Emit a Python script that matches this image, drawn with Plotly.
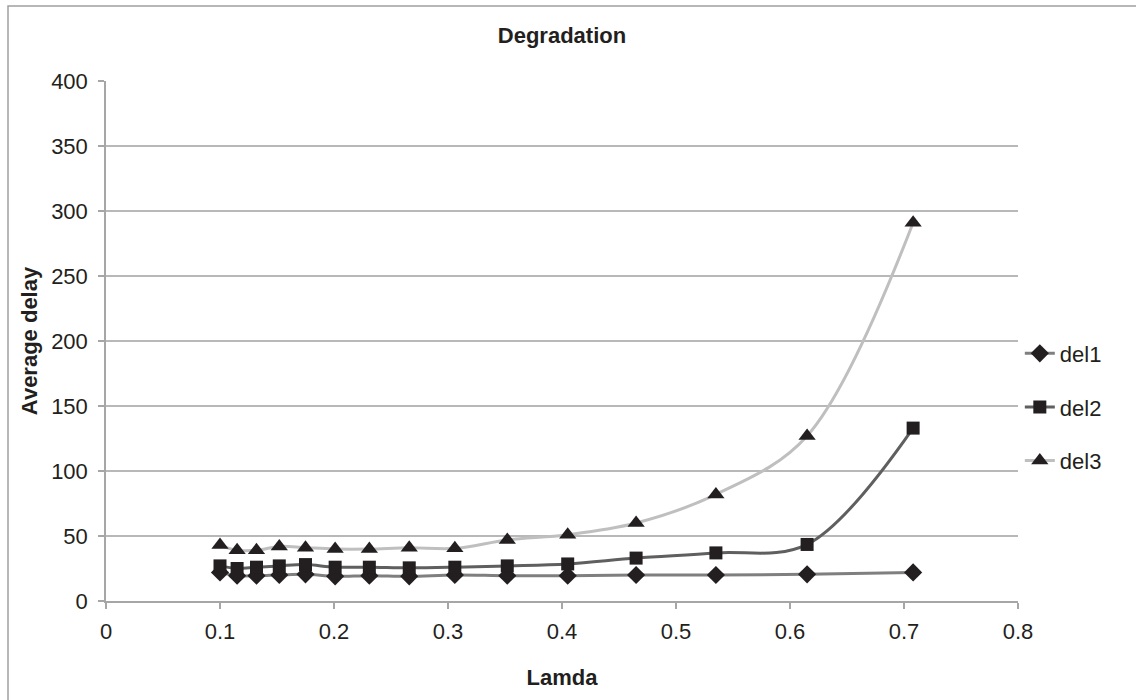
import plotly.graph_objects as go

lamda = [0.1, 0.115, 0.132, 0.152, 0.175, 0.201, 0.231, 0.266, 0.306, 0.352, 0.405, 0.465, 0.535, 0.615, 0.708]
del1 = [22, 19.5, 19.5, 20, 20.5, 19, 19.5, 19, 20, 19.5, 19.5, 20, 20, 20.5, 22]
del2 = [27, 25, 26, 27, 28, 26, 26, 25.5, 26, 27, 28.5, 33, 37, 43.5, 133]
del3 = [43, 39, 39, 42, 41, 40, 40, 41, 40.5, 47, 51, 60, 82, 127, 291]

series = [
    ("del1", del1, "#7f7f7f", "diamond", 14),
    ("del2", del2, "#5f5f5f", "square", 13),
    ("del3", del3, "#bfbfbf", "triangle-up", 15),
]

fig = go.Figure()
for name, vals, col, sym, sz in series:
    fig.add_trace(go.Scatter(
        x=lamda, y=vals, name=name, legendgroup=name,
        mode="lines+markers",
        line=dict(color=col, width=3, shape="spline", smoothing=1.0),
        marker=dict(symbol=sym, size=sz, color="#231f20", line=dict(width=0)),
    ))

font = "Liberation Sans, Arial, sans-serif"
fig.update_layout(
    width=1136, height=700,
    margin=dict(l=106, r=118, t=81, b=99),
    paper_bgcolor="white", plot_bgcolor="white",
    font=dict(family=font, size=22, color="#231f20"),
    title=dict(text="<b>Degradation</b>", x=0.5, xref="paper", xanchor="center",
               y=1 - 35 / 700, yanchor="middle", font=dict(size=22)),
    showlegend=True,
    legend=dict(x=1.002, xanchor="left", y=0.373, yanchor="middle",
                traceorder="grouped", tracegroupgap=22,
                font=dict(size=22), bgcolor="rgba(0,0,0,0)", itemwidth=30),
    xaxis=dict(range=[0, 0.8], dtick=0.1, tick0=0, showgrid=False,
               showline=True, linecolor="#a6a6a6", linewidth=1.5,
               ticks="outside", ticklen=6, tickcolor="#a6a6a6", tickwidth=1.5,
               zeroline=False, ticklabelstandoff=4,
               title=dict(text="<b>Lamda</b>", font=dict(size=22), standoff=26)),
    yaxis=dict(range=[0, 400], dtick=50, showgrid=True, gridcolor="#b8b8b8", gridwidth=1.5,
               showline=True, linecolor="#a6a6a6", linewidth=1.5,
               ticks="outside", ticklen=6, tickcolor="#a6a6a6", tickwidth=1.5,
               zeroline=False, ticklabelstandoff=6,
               title=dict(text="<b>Average delay</b>", font=dict(size=22), standoff=7)),
)

fig.add_shape(type="rect", xref="paper", yref="paper",
              x0=(8 - 106) / 912, x1=(1150 - 106) / 912,
              y0=(601 - 710) / 520, y1=(601 - 6) / 520,
              line=dict(color="#a0a0a0", width=1.5), fillcolor="rgba(0,0,0,0)", layer="below")

fig.write_html("out.html")
